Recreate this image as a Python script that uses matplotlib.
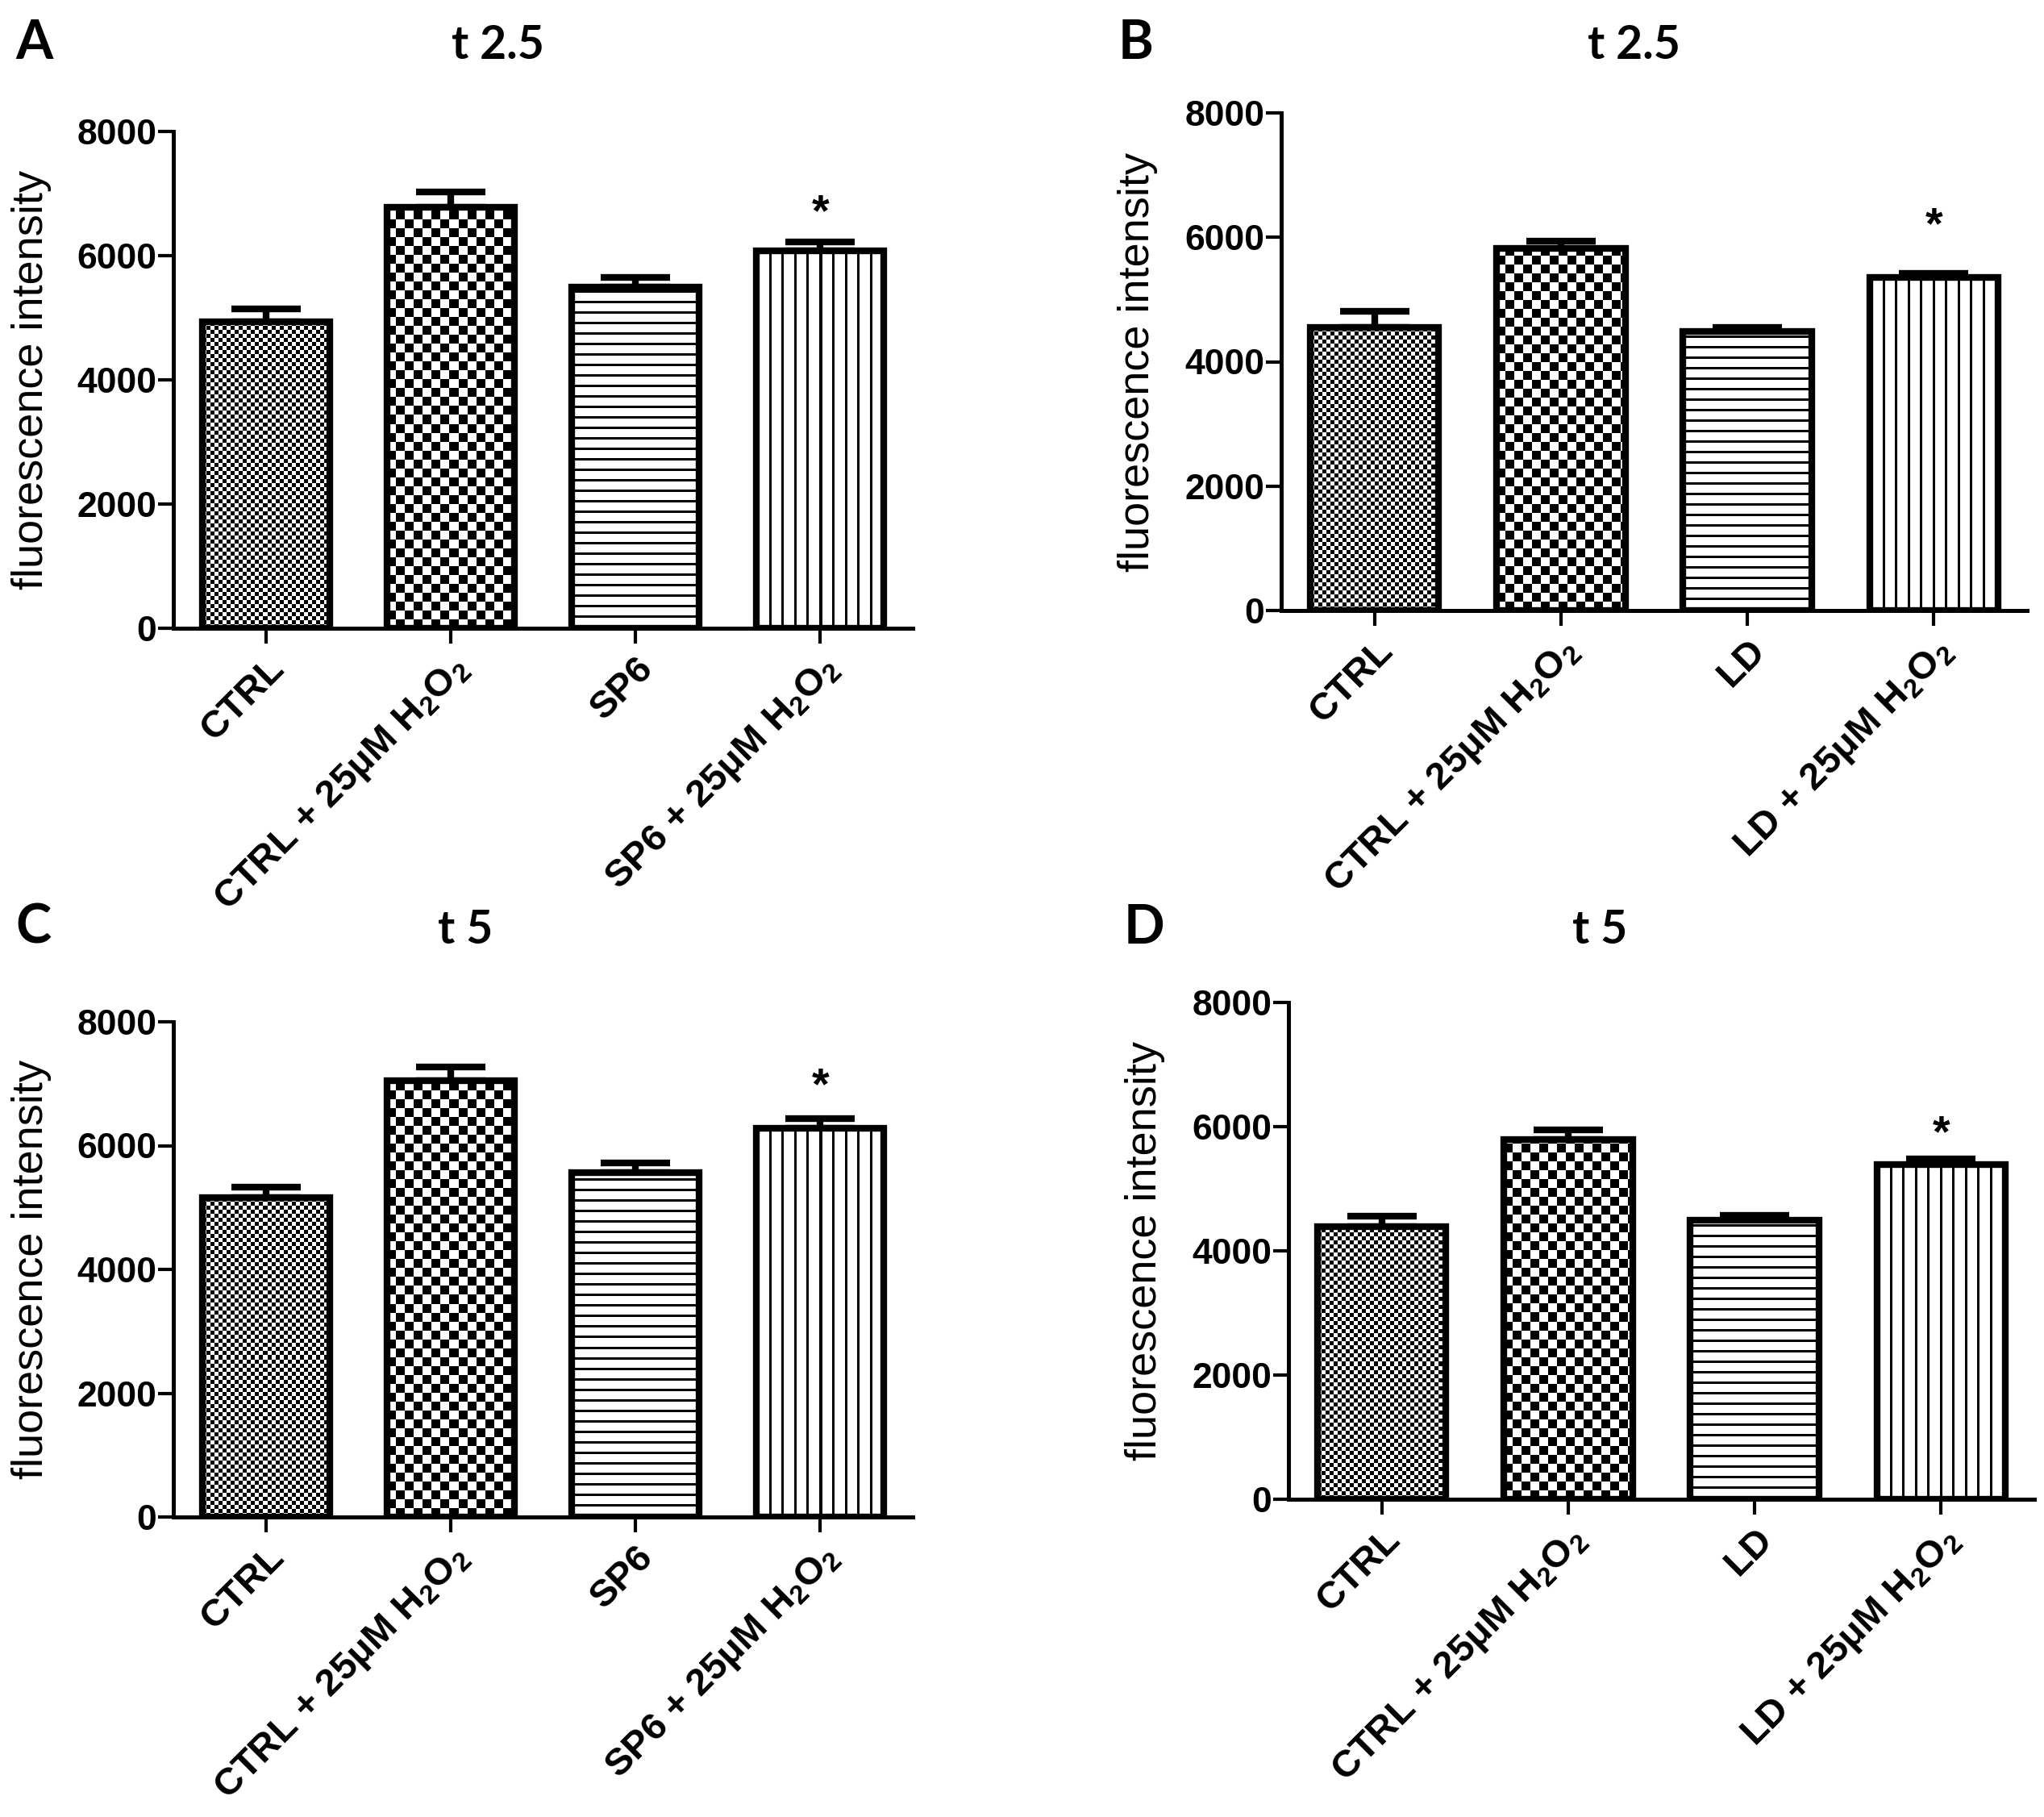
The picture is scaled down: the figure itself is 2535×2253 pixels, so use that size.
import matplotlib
matplotlib.use("Agg")
import matplotlib.pyplot as plt
import numpy as np

plt.rcParams['font.family'] = ['Liberation Sans', 'DejaVu Sans']
plt.rcParams['mathtext.fontset'] = 'custom'
plt.rcParams['mathtext.rm'] = 'Liberation Sans:bold'
plt.rcParams['mathtext.it'] = 'Liberation Sans:bold'
plt.rcParams['mathtext.bf'] = 'Liberation Sans:bold'

# data
labels_sp6 = ["CTRL", "CTRL + 25μM H$_2$O$_2$", "SP6", "SP6 + 25μM H$_2$O$_2$"]
labels_ld = ["CTRL", "CTRL + 25μM H$_2$O$_2$", "LD", "LD + 25μM H$_2$O$_2$"]

mean_a = [4930, 6785, 5490, 6075]
sem_a = [210, 245, 155, 145]
mean_b = [4555, 5820, 4480, 5355]
sem_b = [255, 120, 65, 70]
mean_c = [5160, 7055, 5565, 6280]
sem_c = [170, 210, 150, 150]
mean_d = [4390, 5795, 4490, 5385]
sem_d = [170, 150, 75, 95]

star_a = 6920
star_b = 6420
star_c = 7190
star_d = 6120

titles = ["t 2.5", "t 2.5", "t 5", "t 5"]
letters = ["A", "B", "C", "D"]
patterns = ["fine", "coarse", "hline", "vline"]

W, H = 2535, 2253
fig = plt.figure(figsize=(W / 100, H / 100), dpi=100)


def make_ax(left, top, right, bottom):
    # pixel coords of the axes box -> figure fraction
    return fig.add_axes([left / W, 1 - bottom / H, (right - left) / W, (bottom - top) / H])


def fill_pattern(ax, bar, kind):
    bb = bar.get_window_extent()
    nx, ny = int(round(bb.width)), int(round(bb.height))
    yy, xx = np.mgrid[0:ny, 0:nx]
    if kind == "fine":
        a = (xx // 5 + yy // 5) % 2
    elif kind == "coarse":
        a = (xx // 11 + yy // 11) % 2
    elif kind == "hline":
        a = (yy % 13 < 3).astype(int)
    else:
        a = ((xx % 15.5) < 3).astype(int)
    x0 = bar.get_x()
    im = ax.imshow(a, cmap="gray_r", vmin=0, vmax=1, origin="lower", aspect="auto",
                   interpolation="nearest",
                   extent=(x0, x0 + bar.get_width(), 0, bar.get_height()), zorder=2)
    im.set_clip_path(bar)


def panel(box, means, sems, labels, star, title, letter, title_xy, letter_xy):
    ax = make_ax(*box)
    x = np.arange(len(means))
    ax.set_xlim(-0.5, 3.5)
    ax.set_ylim(0, 8000)
    ax.errorbar(x, means, yerr=[np.zeros(len(sems)), sems], fmt="none", ecolor="black",
                elinewidth=6, capsize=31, capthick=6, zorder=1)
    bars = ax.bar(x, means, width=0.69, facecolor="white", edgecolor="none", zorder=1.5)
    for b, kind in zip(bars, patterns):
        fill_pattern(ax, b, kind)
    ax.bar(x, means, width=0.69, facecolor="none", edgecolor="black", linewidth=6, zorder=3)
    ax.set_xlim(-0.5, 3.5)
    ax.set_ylim(0, 8000)

    ax.annotate("*", (x[3], star), xytext=(0, -24), textcoords="offset points",
                ha="center", va="baseline", fontsize=40, fontweight="bold")

    for s in ["top", "right"]:
        ax.spines[s].set_visible(False)
    for s in ["left", "bottom"]:
        ax.spines[s].set_linewidth(3.6)
    ax.set_yticks([0, 2000, 4000, 6000, 8000])
    ax.set_xticks(x)
    ax.set_xticklabels(labels, rotation=45, ha="right", rotation_mode="anchor",
                       fontsize=34, fontweight="bold")
    ax.tick_params(axis="y", length=14, width=3, pad=1, labelsize=32)
    ax.tick_params(axis="x", length=14, width=3, pad=6)
    for t in ax.get_yticklabels():
        t.set_fontweight("bold")
    ax.set_ylabel("fluorescence intensity", fontsize=39)
    ax.yaxis.set_label_coords(-0.165, 0.5)

    fig.text(title_xy[0] / W, 1 - title_xy[1] / H, title, family="Lato", fontweight="bold",
             fontsize=41, ha="center", va="baseline")
    fig.text(letter_xy[0] / W, 1 - letter_xy[1] / H, letter, family="Lato", fontweight="bold",
             fontsize=48, ha="left", va="baseline")
    return ax


panel((215, 163, 1132, 779), mean_a, sem_a, labels_sp6, star_a, titles[0], letters[0],
      (617, 73), (19, 73))
panel((1589, 140, 2514, 757), mean_b, sem_b, labels_ld, star_b, titles[1], letters[1],
      (2026, 73), (1387, 73))
panel((215, 1267, 1132, 1881), mean_c, sem_c, labels_sp6, star_c, titles[2], letters[2],
      (577, 1170), (19, 1170))
panel((1598, 1243, 2523, 1859), mean_d, sem_d, labels_ld, star_d, titles[3], letters[3],
      (1984, 1170), (1394, 1170))

fig.savefig("out.png", dpi=100, facecolor="white")
